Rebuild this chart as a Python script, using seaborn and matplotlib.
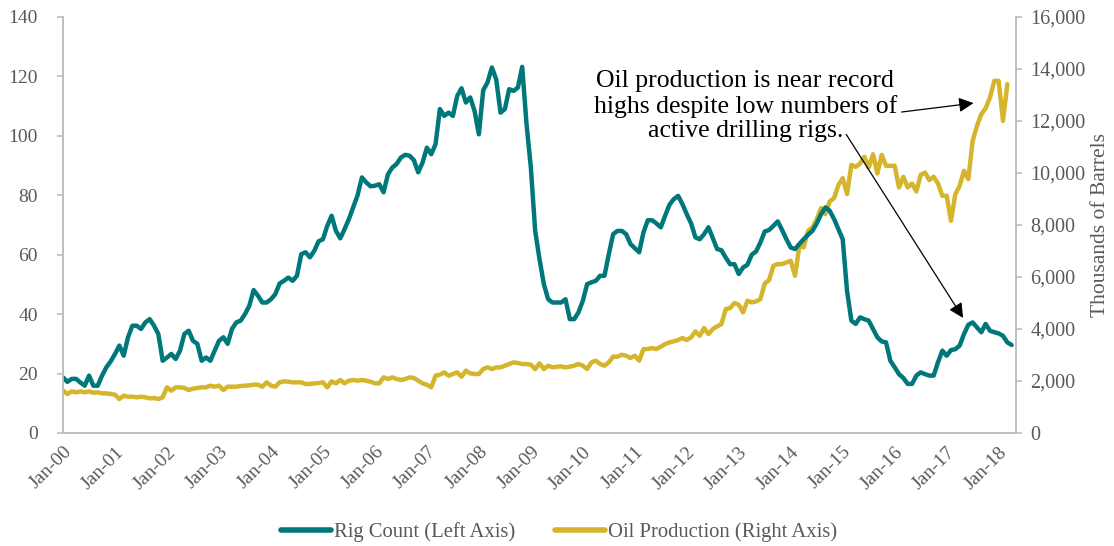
import numpy as np
import pandas as pd
import seaborn as sns
from matplotlib import pyplot as plt
from matplotlib.lines import Line2D

# monthly rig count, Jan-2000 .. Apr-2018
rig_count = [
    18.7, 17.2, 18.2, 18.2, 17.0, 15.9, 19.3, 15.9, 15.9, 19.3, 22.1, 24.1,
    26.6, 29.4, 26.0, 32.2, 36.1, 36.1, 35.0, 37.2, 38.3, 36.1, 33.3, 24.3,
    25.4, 26.6, 24.9, 27.7, 33.3, 34.4, 31.0, 30.0, 24.3, 25.4, 24.3, 27.7,
    31.0, 32.2, 30.0, 35.0, 37.2, 37.8, 40.0, 42.8, 48.1, 46.2, 43.9, 43.9,
    45.0, 46.7, 50.3, 51.2, 52.3, 51.2, 52.9, 60.2, 60.8, 59.1, 61.3, 64.5,
    65.2, 69.7, 73.1, 68.0, 65.5, 68.6, 72.0, 76.0, 80.0, 86.0, 84.3, 83.0,
    83.2, 83.7, 81.0, 87.0, 89.3, 90.5, 92.7, 93.6, 93.3, 91.8, 87.7, 91.0,
    96.0, 93.8, 97.2, 109.0, 106.7, 107.8, 106.7, 113.4, 116.0, 111.2, 112.9, 108.4,
    100.5, 115.3, 118.0, 123.0, 119.0, 107.8, 109.0, 115.7, 115.1, 116.2, 123.2, 104.0,
    89.3, 68.0, 58.5, 50.1, 45.0, 43.9, 43.9, 43.9, 45.0, 38.3, 38.3, 40.6,
    44.5, 50.1, 50.7, 51.2, 52.9, 52.9, 60.2, 66.9, 68.0, 68.0, 66.9, 63.6,
    62.2, 60.8, 67.5, 71.6, 71.6, 70.5, 69.2, 73.1, 76.8, 78.7, 79.8, 77.0,
    73.6, 70.5, 65.8, 65.2, 66.9, 69.2, 65.6, 61.9, 61.5, 59.0, 56.8, 56.8,
    53.5, 55.7, 56.6, 60.0, 61.1, 64.1, 67.8, 68.3, 69.7, 71.2, 68.3, 65.2,
    62.4, 61.9, 63.6, 65.2, 66.7, 68.0, 70.5, 73.6, 75.9, 74.8, 72.0, 68.6,
    65.2, 47.8, 37.8, 36.7, 38.9, 38.3, 37.8, 35.0, 32.2, 30.8, 30.5, 24.3,
    22.1, 19.8, 18.5, 16.5, 16.5, 19.3, 20.4, 19.8, 19.3, 19.3, 23.8, 27.7,
    26.0, 27.9, 28.2, 29.4, 33.3, 36.4, 37.2, 35.5, 33.9, 36.7, 34.4, 33.9,
    33.5, 32.7, 30.5, 29.6,
]

# monthly oil production (thousands of barrels), Jan-2000 .. Mar-2018
oil_production = [
    1627, 1500, 1600, 1563, 1600, 1563, 1600, 1550, 1563, 1524, 1524, 1500,
    1473, 1307, 1435, 1396, 1396, 1371, 1396, 1371, 1332, 1345, 1307, 1371,
    1755, 1627, 1755, 1755, 1730, 1652, 1704, 1730, 1755, 1755, 1819, 1780,
    1819, 1652, 1780, 1780, 1780, 1806, 1819, 1832, 1857, 1857, 1780, 1947,
    1819, 1780, 1947, 1985, 1973, 1947, 1947, 1947, 1883, 1883, 1909, 1921,
    1947, 1755, 1985, 1909, 2037, 1909, 2011, 2037, 2011, 2037, 2011, 1973,
    1909, 1909, 2139, 2075, 2139, 2075, 2037, 2075, 2139, 2113, 2011, 1909,
    1857, 1755, 2203, 2242, 2331, 2203, 2267, 2331, 2165, 2395, 2293, 2267,
    2267, 2459, 2523, 2459, 2523, 2523, 2588, 2652, 2716, 2690, 2652, 2652,
    2626, 2459, 2677, 2459, 2588, 2523, 2549, 2562, 2523, 2549, 2588, 2652,
    2588, 2459, 2716, 2780, 2652, 2588, 2716, 2934, 2934, 3010, 2972, 2882,
    2972, 2780, 3228, 3228, 3267, 3228, 3318, 3420, 3484, 3523, 3574, 3651,
    3574, 3676, 3907, 3740, 4035, 3804, 3996, 4099, 4189, 4765, 4804, 4996,
    4932, 4637, 5085, 5021, 5060, 5149, 5752, 5880, 6431, 6495, 6495, 6559,
    6623, 6046, 7199, 7135, 7776, 7904, 8224, 8647, 8416, 8903, 9031, 9531,
    9800, 9185, 10312, 10235, 10363, 10620, 10210, 10722, 9979, 10696, 10274, 10274,
    10274, 9441, 9851, 9441, 9595, 9287, 9928, 10017, 9723, 9851, 9595, 9121,
    9121, 8160, 9185, 9505, 10082, 9761, 11235, 11811, 12259, 12490, 12900, 13540,
    13540, 12003, 13412,
]

years = list(range(2000, 2019))
tick_labels = [f"Jan-{y % 100:02d}" for y in years]

TEAL = "#00777B"
GOLD = "#D4B52B"
GREY = "#595959"
AXIS = "#BFBFBF"

rig_df = pd.DataFrame({"month": np.arange(len(rig_count)), "rigs": rig_count})
oil_df = pd.DataFrame({"month": np.arange(len(oil_production)), "oil": oil_production})

sns.set_style("white")
plt.rcParams["font.family"] = ["Liberation Serif", "DejaVu Serif"]

fig, ax = plt.subplots(figsize=(11.14, 5.46), dpi=100)
fig.subplots_adjust(left=0.0566, right=0.912, bottom=0.207, top=0.969)
ax2 = ax.twinx()

sns.lineplot(data=oil_df, x="month", y="oil", ax=ax2, color=GOLD, linewidth=3.2,
             solid_capstyle="round")
sns.lineplot(data=rig_df, x="month", y="rigs", ax=ax, color=TEAL, linewidth=3.2,
             solid_capstyle="round")
# rig count drawn on top of oil
ax.set_zorder(ax2.get_zorder() + 1)
ax.patch.set_visible(False)

ax.set_xlim(0, 220)
ax.set_ylim(0, 140)
ax2.set_ylim(0, 16000)
ax.set_yticks(range(0, 141, 20))
ax2.set_yticks(range(0, 16001, 2000))
ax2.set_yticklabels([f"{v:,}" for v in range(0, 16001, 2000)])
ax.set_xticks([12 * i for i in range(len(years))])
ax.set_xticklabels(tick_labels, rotation=45, ha="right", rotation_mode="anchor")

ax.set_xlabel("")
ax.set_ylabel("")
ax2.set_xlabel("")
ax2.set_ylabel("Thousands of Barrels", fontsize=15.5, color=GREY, labelpad=4)

for a in (ax, ax2):
    a.spines["top"].set_visible(False)
    for side in ("left", "right", "bottom"):
        a.spines[side].set_color(AXIS)
        a.spines[side].set_linewidth(1.2)
    a.tick_params(axis="both", colors=AXIS, labelcolor=GREY, labelsize=14,
                  direction="out", length=4.5, width=1.2)
ax.tick_params(axis="x", labelsize=14, pad=3)
ax.tick_params(axis="y", pad=13.5)
ax2.tick_params(axis="y", labelsize=14.5, pad=6)

# annotation
ax.text(157.5, 110.0,
        "Oil production is near record\nhighs despite low numbers of\nactive drilling rigs.",
        ha="center", va="center", fontsize=18.5, color="black", linespacing=1.15)
arrow = dict(arrowstyle="-|>", color="black", lw=0.9, mutation_scale=22,
             shrinkA=0, shrinkB=0)
ax.annotate("", xy=(210.2, 111.0), xytext=(193.6, 108.0), arrowprops=arrow)
ax.annotate("", xy=(207.8, 38.7), xytext=(180.8, 100.5), arrowprops=arrow)

handles = [
    Line2D([], [], color=TEAL, lw=4, solid_capstyle="round"),
    Line2D([], [], color=GOLD, lw=4, solid_capstyle="round"),
]
fig.legend(handles, ["Rig Count (Left Axis)", "Oil Production (Right Axis)"],
           loc="center", bbox_to_anchor=(0.502, 0.026), ncol=2, frameon=False,
           fontsize=14.9, handlelength=2.42, handletextpad=0.15, columnspacing=1.93,
           labelcolor=GREY)

fig.savefig("out.png", dpi=100)
